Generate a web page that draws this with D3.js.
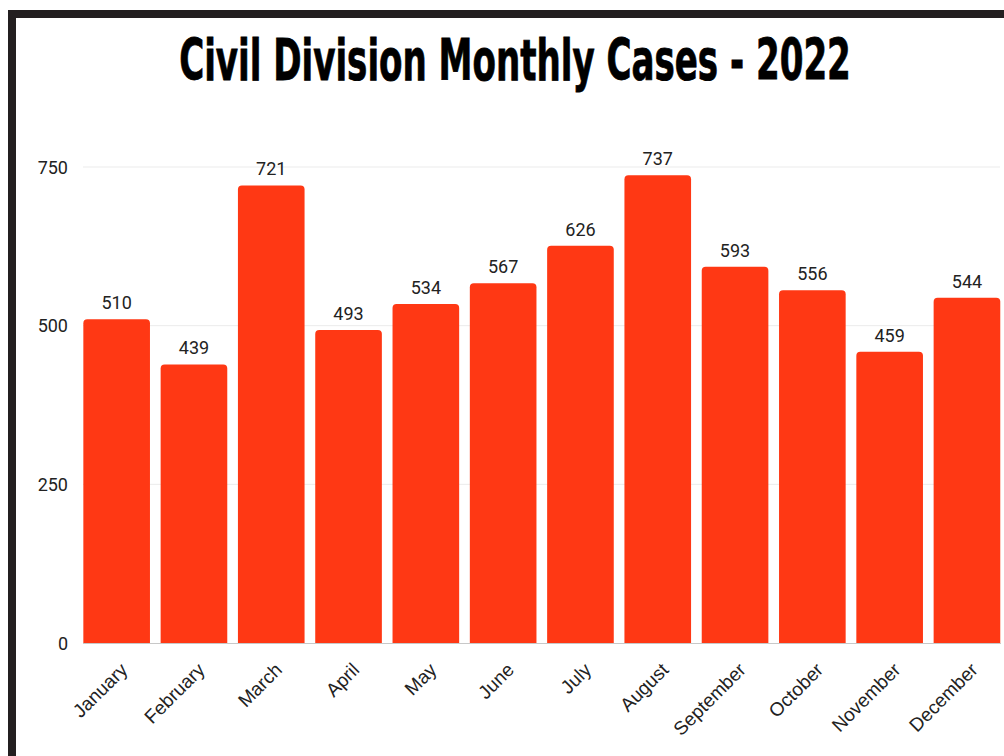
<!DOCTYPE html>
<html>
<head>
<meta charset="utf-8">
<script src="https://cdn.jsdelivr.net/npm/d3@7"></script>
<style>
  html, body { margin: 0; padding: 0; background: #fff; }
  svg { display: block; }
</style>
</head>
<body>
<svg id="chart" width="1004" height="756"></svg>
<script>
// Monthly case counts for the Civil Division, 2022
const months = ["January", "February", "March", "April", "May", "June",
                "July", "August", "September", "October", "November", "December"];
const cases = [510, 439, 721, 493, 534, 567, 626, 737, 593, 556, 459, 544];
const yTicks = [0, 250, 500, 750];
const titleText = "Civil Division Monthly Cases - 2022";

const data = months.map((m, i) => ({ month: m, value: cases[i] }));

const svg = d3.select("#chart");

// frame on the left and top
svg.append("path")
  .attr("d", "M12,756 L12,14 L1004,14")
  .attr("fill", "none")
  .attr("stroke", "#231f20")
  .attr("stroke-width", 8);

// title, squeezed horizontally to a condensed look
const titleWidth = 672, titleCx = 515, titleBase = 80;
const title = svg.append("text")
  .attr("x", 0)
  .attr("y", 0)
  .attr("text-anchor", "middle")
  .attr("font-family", "'DejaVu Sans Condensed', 'DejaVu Sans', sans-serif")
  .attr("font-weight", 700)
  .attr("font-size", 57)
  .attr("fill", "#000")
  .attr("stroke", "#000")
  .attr("stroke-width", 0.8)
  .text(titleText);
const natural = title.node().getComputedTextLength();
title.attr("transform", `translate(${titleCx},${titleBase}) scale(${titleWidth / natural},1)`);

const x = d3.scaleBand()
  .domain(months)
  .range([78, 1005.6])
  .paddingInner(0.138)
  .paddingOuter(0.069);

const y = d3.scaleLinear()
  .domain([0, 750])
  .range([643, 167]);

const gridLeft = 83, gridRight = 1000;

// horizontal gridlines
svg.append("g")
  .selectAll("line")
  .data(yTicks.filter(t => t > 0))
  .join("line")
  .attr("x1", gridLeft)
  .attr("x2", gridRight)
  .attr("y1", d => y(d))
  .attr("y2", d => y(d))
  .attr("stroke", "#ebebeb")
  .attr("stroke-width", 1);

// y axis tick labels
const yAxis = d3.axisLeft(y).tickValues(yTicks).tickSize(0).tickPadding(0);
const gy = svg.append("g")
  .attr("transform", "translate(68,0)")
  .call(yAxis);
gy.select(".domain").remove();
gy.selectAll("text")
  .attr("font-family", "Roboto, 'Noto Sans', sans-serif")
  .attr("font-size", 18)
  .attr("fill", "#222")
  .attr("dy", "0.35em");

// bars with rounded tops
const r = 4;
function barPath(d) {
  const x0 = x(d.month), w = x.bandwidth();
  const y0 = y(d.value), yb = y(0);
  return `M${x0},${yb} L${x0},${y0 + r} Q${x0},${y0} ${x0 + r},${y0} ` +
         `L${x0 + w - r},${y0} Q${x0 + w},${y0} ${x0 + w},${y0 + r} L${x0 + w},${yb} Z`;
}
svg.append("g")
  .selectAll("path")
  .data(data)
  .join("path")
  .attr("d", barPath)
  .attr("fill", "#ff3814");

// baseline
svg.append("line")
  .attr("x1", gridLeft)
  .attr("x2", 1001)
  .attr("y1", y(0) + 0.5)
  .attr("y2", y(0) + 0.5)
  .attr("stroke", "#c8c8c8")
  .attr("stroke-width", 1);

// value labels
svg.append("g")
  .selectAll("text")
  .data(data)
  .join("text")
  .attr("x", d => x(d.month) + x.bandwidth() / 2)
  .attr("y", d => y(d.value) - 10)
  .attr("text-anchor", "middle")
  .attr("font-family", "Roboto, 'Noto Sans', sans-serif")
  .attr("font-size", 18)
  .attr("fill", "#222")
  .text(d => d.value);

// x axis labels, rotated
const xAxis = d3.axisBottom(x).tickSize(0).tickPadding(0);
const gx = svg.append("g")
  .attr("transform", `translate(0,${y(0)})`)
  .call(xAxis);
gx.select(".domain").remove();
gx.selectAll("text")
  .attr("font-family", "'Liberation Sans', Arial, sans-serif")
  .attr("font-size", 19)
  .attr("fill", "#222")
  .attr("text-anchor", "end")
  .attr("dy", null)
  .attr("y", 0)
  .attr("transform", "translate(12,28) rotate(-45)");
</script>
</body>
</html>
